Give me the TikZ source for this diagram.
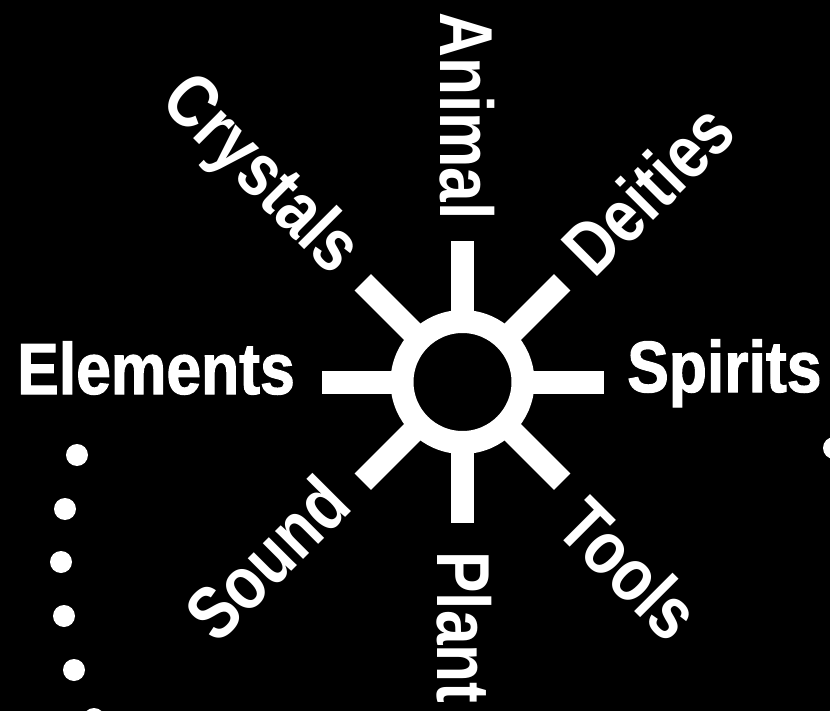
\documentclass[tikz,border=0pt]{standalone}
\usepackage{fontspec}
\usetikzlibrary{positioning}
\newfontfamily\sidefont[FakeStretch=0.86,FakeBold=1.5]{Liberation Sans Bold}
\newfontfamily\tagfont[FakeStretch=0.83]{Liberation Sans Bold}
\definecolor{ink}{HTML}{FFFFFF}
\definecolor{bg}{HTML}{000000}

\begin{document}
\begin{tikzpicture}[x=1pt,y=-1pt,
  ring/.style={circle,draw=ink,line width=23pt,minimum size=121pt,inner sep=0pt},
  spoke/.style={draw=ink,line width=23pt},
  side/.style={text=ink,inner sep=0pt,font=\sidefont\fontsize{72.6}{76}\selectfont},
  tag/.style={text=ink,inner sep=0pt,font=\tagfont\fontsize{75}{80}\selectfont}]
\fill[bg] (0,0) rectangle (830,711);
\useasboundingbox (0,0) rectangle (830,711);
\node[ring] (hub) at (462.5,382) {};
\foreach \a in {0,45,...,315}
  \draw[spoke] (hub.\a) ++(\a:-10pt) -- ++(\a:79pt);
\node[side,anchor=base east] (elements) at (295,394) {Elements};
\node[side,anchor=base west] (spirits) at (627,392) {Spirits};
\node[tag,rotate=-90,anchor=base west] (animal) at (440,12) {Animal};
\node[tag,rotate=-90,anchor=base west] (plant) at (437,551) {Plant};
\node[tag,rotate=-45,anchor=base east] (crystals) at (332.6,277.6) {Crystals};
\node[tag,rotate=45,anchor=base west] (deities) at (594.5,280.1) {Deities};
\node[tag,rotate=45,anchor=base east] (sound) at (354.6,508.4) {Sound};
\node[tag,rotate=-45,anchor=base west] (tools) at (553.5,530.5) {Tools};
\foreach \p in {(77,455),(65,509),(61,562),(64,616),(74,670),(94,719),(834,448),(840,715)}
  \fill[ink] \p circle[radius=11pt];
\end{tikzpicture}
\end{document}
